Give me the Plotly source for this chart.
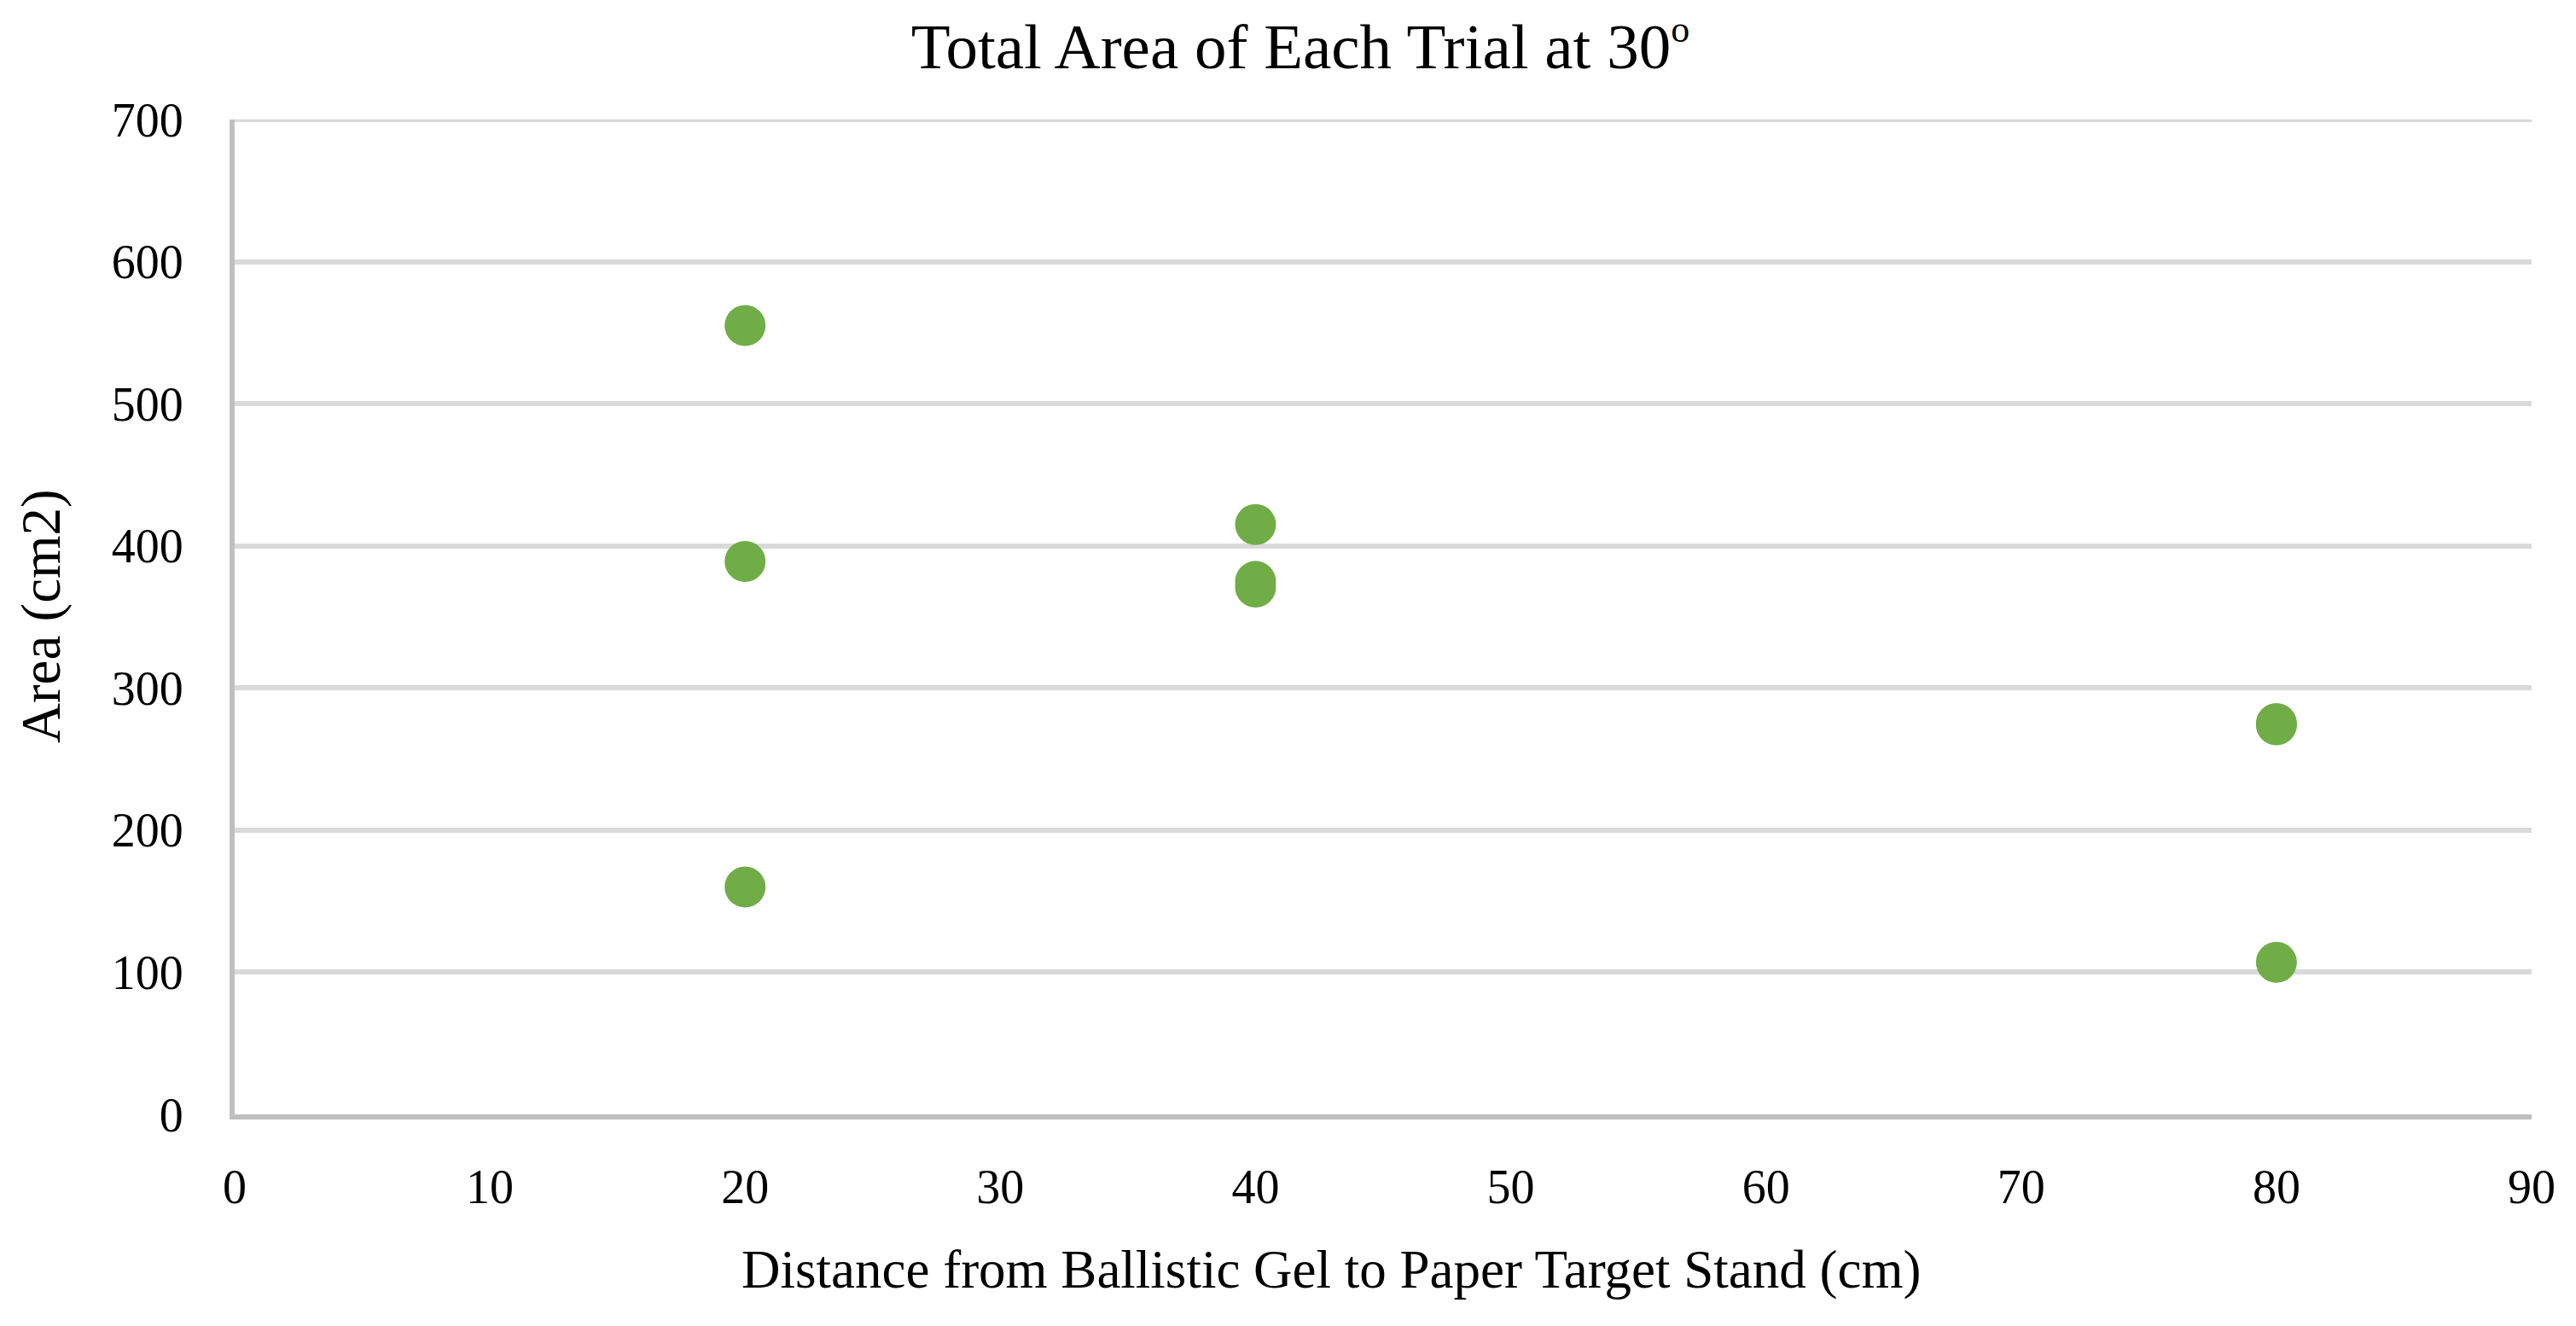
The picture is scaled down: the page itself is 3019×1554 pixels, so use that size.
import plotly.graph_objects as go

# Data
distance_cm = [20, 20, 20, 40, 40, 40, 80, 80, 80]
area_cm2 = [555, 389, 160, 415, 375, 371, 275, 274, 107]

x_ticks = [0, 10, 20, 30, 40, 50, 60, 70, 80, 90]
y_ticks = [0, 100, 200, 300, 400, 500, 600, 700]

# the page body adds an 8px offset, so the figure is drawn 8px smaller
W, H = 3011, 1546
L, R, T, B = 267, 52, 132, 248
PW, PH = W - L - R, H - T - B
FONT = "Liberation Serif"

fig = go.Figure()
fig.add_trace(go.Scatter(
    x=distance_cm, y=area_cm2, mode="markers",
    marker=dict(size=48, color="#70ad47", line=dict(width=0)),
    showlegend=False, hoverinfo="x+y",
))

fig.update_layout(
    width=W, height=H,
    paper_bgcolor="white", plot_bgcolor="white",
    margin=dict(l=L, r=R, t=T, b=B, pad=0, autoexpand=False),
    font=dict(family=FONT, color="black"),
    title=dict(
        text="Total Area of Each Trial at 30<sup><span style='font-size:44px'>o</span></sup>",
        font=dict(family=FONT, size=75, color="black"),
        x=1516 / W, xanchor="center", xref="container",
        y=1 - 46 / H, yanchor="middle", yref="container",
    ),
    xaxis=dict(
        range=[0, 90], tickvals=x_ticks, ticktext=[str(v) for v in x_ticks],
        showgrid=False, zeroline=False,
        showline=True, linecolor="#bfbfbf", linewidth=6,
        ticks="", ticklabelstandoff=31,
        tickfont=dict(family=FONT, size=56, color="black"),
    ),
    yaxis=dict(
        range=[0, 700], tickvals=y_ticks, ticktext=[str(v) for v in y_ticks],
        showgrid=True, gridcolor="#d9d9d9", gridwidth=6,
        zeroline=False,
        showline=True, linecolor="#bfbfbf", linewidth=6,
        ticks="", ticklabelstandoff=43,
        tickfont=dict(family=FONT, size=56, color="black"),
    ),
    shapes=[
        # top gridline at the range edge (plotly drops edge gridlines)
        dict(type="line", xref="paper", yref="y", x0=0, x1=1,
             y0=y_ticks[-1], y1=y_ticks[-1],
             line=dict(color="#d9d9d9", width=6), layer="below"),
    ],
    annotations=[
        dict(text="Distance from Ballistic Gel to Paper Target Stand (cm)",
             xref="paper", yref="paper",
             x=(1552 - L) / PW, y=-(1480 - (H - B)) / PH,
             xanchor="center", yanchor="middle", showarrow=False,
             font=dict(family=FONT, size=63, color="black")),
        dict(text="Area (cm2)", textangle=-90,
             xref="paper", yref="paper",
             x=-(L - 40) / PW, y=((H - B) - 714) / PH,
             xanchor="center", yanchor="middle", showarrow=False,
             font=dict(family=FONT, size=65, color="black")),
    ],
)

fig.write_html("out.html")
